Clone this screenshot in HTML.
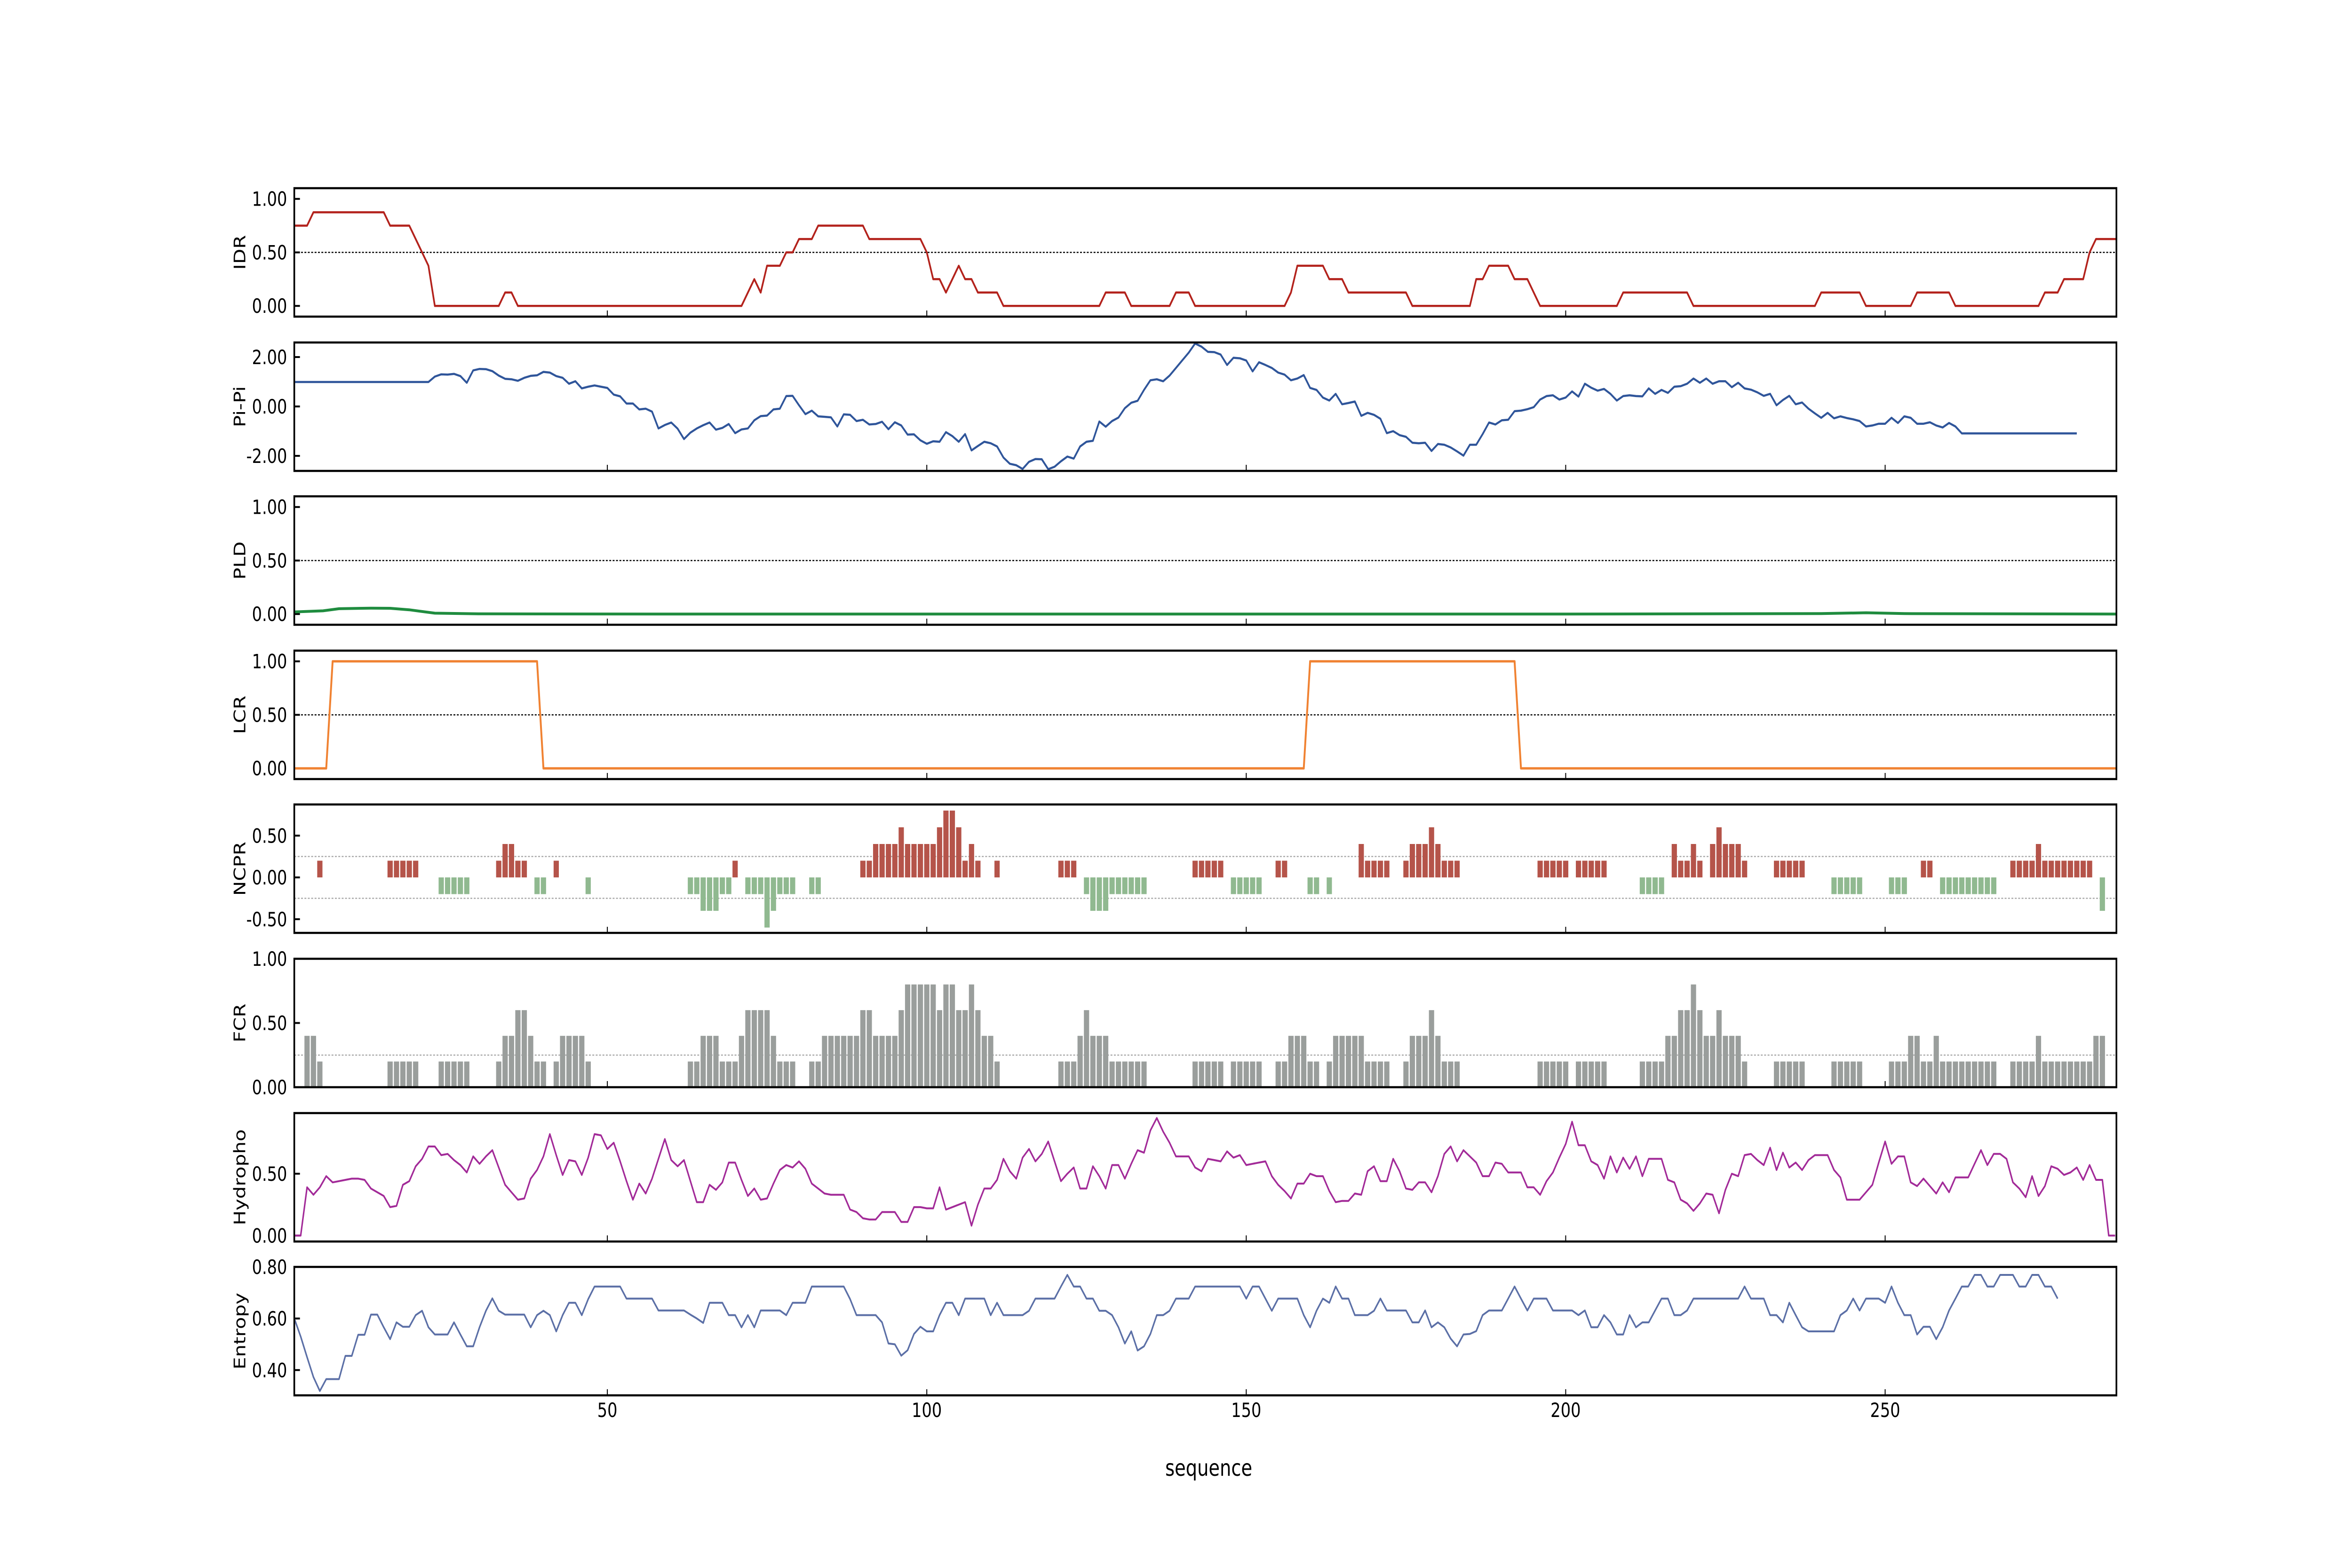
<!DOCTYPE html>
<html><head><meta charset="utf-8"><style>
html,body{margin:0;padding:0;background:#fff;overflow:hidden;width:100%;height:100%;}
svg{display:block;width:100vw;height:100vh;font-family:"DejaVu Sans","Liberation Sans",sans-serif;}
</style></head><body>
<svg id="fig" xmlns="http://www.w3.org/2000/svg" viewBox="0 0 6250 3333" preserveAspectRatio="none">
<rect x="0" y="0" width="6250" height="3333" fill="#fff"/>
</svg>
<script>
// ---- data ----
const xTicks = [50, 100, 150, 200, 250];
const idrX = [1,3,4,15,16,19,21,22,23,33,34,35,36,71,73,74,75,77,78,79,80,82,83,90,91,99,100,101,102,103,105,106,107,108,111,112,127,128,131,132,138,139,141,142,156,157,158,162,163,165,166,175,176,185,186,187,188,191,192,194,196,208,209,219,220,239,240,246,247,254,255,260,261,274,275,277,278,281,282,283,286.2];
const idrY = [0.75,0.75,0.875,0.875,0.75,0.75,0.5,0.375,0,0,0.125,0.125,0,0,0.25,0.125,0.375,0.375,0.5,0.5,0.625,0.625,0.75,0.75,0.625,0.625,0.5,0.25,0.25,0.125,0.375,0.25,0.25,0.125,0.125,0,0,0.125,0.125,0,0,0.125,0.125,0,0,0.125,0.375,0.375,0.25,0.25,0.125,0.125,0,0,0.25,0.25,0.375,0.375,0.25,0.25,0,0,0.125,0.125,0,0,0.125,0.125,0,0,0.125,0.125,0,0,0.125,0.125,0.25,0.25,0.5,0.625,0.625];
const piVals = [0.99,0.99,0.99,0.99,0.99,0.99,0.99,0.99,0.99,0.99,0.99,0.99,0.99,0.99,0.99,0.99,0.99,0.99,0.99,0.99,0.99,0.99,
1.21,1.30,1.29,1.32,1.23,0.96,1.46,1.52,1.51,1.43,1.25,1.12,1.10,1.04,1.16,1.24,1.26,1.40,1.37,1.23,1.16,0.92,1.02,0.73,0.80,0.85,0.80,0.75,0.48,0.41,0.12,0.12,-0.12,-0.09,-0.21,-0.89,-0.75,-0.65,-0.90,-1.32,-1.06,-0.89,-0.76,-0.65,-0.94,-0.87,-0.71,-1.08,-0.93,-0.89,-0.56,-0.39,-0.37,-0.12,-0.09,0.42,0.43,0.05,-0.31,-0.17,-0.40,-0.42,-0.44,-0.81,-0.32,-0.34,-0.59,-0.54,-0.73,-0.71,-0.62,-0.92,-0.64,-0.77,-1.14,-1.13,-1.37,-1.51,-1.41,-1.43,-1.04,-1.20,-1.43,-1.12,-1.78,-1.60,-1.43,-1.49,-1.62,-2.07,-2.32,-2.38,-2.53,-2.24,-2.13,-2.14,-2.54,-2.44,-2.22,-2.03,-2.11,-1.62,-1.43,-1.39,-0.61,-0.82,-0.59,-0.45,-0.07,0.15,0.23,0.67,1.06,1.10,1.02,1.25,1.56,1.87,2.18,2.55,2.42,2.21,
2.20,2.10,1.68,1.97,1.95,1.86,1.42,1.79,1.68,1.56,1.37,1.29,1.06,1.13,1.27,0.75,0.67,0.36,0.24,0.51,0.09,0.14,0.20,-0.38,-0.26,-0.34,-0.50,-1.08,-1.00,-1.16,-1.23,-1.47,-1.49,-1.47,-1.80,-1.52,-1.55,-1.66,-1.82,-1.99,-1.55,-1.55,-1.12,-0.65,-0.73,-0.56,-0.54,-0.19,-0.17,-0.11,-0.03,0.28,0.42,0.45,0.28,0.36,0.61,0.40,0.92,0.76,0.64,0.71,0.51,0.24,0.42,0.45,0.42,0.41,0.73,0.51,0.67,0.55,0.80,0.82,0.92,1.13,0.96,1.13,0.92,1.02,1.02,0.78,0.96,0.73,0.68,0.57,0.43,0.51,0.05,0.26,0.43,0.09,0.16,-0.09,-0.28,-0.46,-0.26,-0.48,-0.40,-0.47,-0.52,-0.59,-0.81,-0.77,-0.70,-0.70,-0.46,-0.67,-0.40,-0.46,-0.70,-0.70,-0.64,-0.77,-0.85,-0.67,-0.81,-1.09,
-1.09,-1.09,-1.09,-1.09,-1.09,-1.09,-1.09,-1.09,-1.09,-1.09,-1.09,-1.09,-1.09,-1.09,-1.09,-1.09,-1.09,-1.09];
const pldX = [1,5.5,8,13,16,19,23,30,60,200,240,247,253,286.2];
const pldY = [0.02,0.03,0.05,0.055,0.054,0.04,0.008,0.002,0,0,0.004,0.012,0.004,0];
const lcrX = [1,6,7,39,40,159,160,192,193,286.2];
const lcrY = [0,0,1,1,0,0,1,1,0,0];
const ncprVals = [0,0,0,0,.2,0,0,0,0,0, 0,0,0,0,0,.2,.2,.2,.2,.2, 0,0,0,-.2,-.2,-.2,-.2,-.2,0,0, 0,0,.2,.4,.4,.2,.2,0,-.2,-.2,
0,.2,0,0,0,0,-.2,0,0,0, 0,0,0,0,0,0,0,0,0,0, 0,0,-.2,-.2,-.4,-.4,-.4,-.2,-.2,.2, 0,-.2,-.2,-.2,-.6,-.4,-.2,-.2,-.2,0,
0,-.2,-.2,0,0,0,0,0,0,.2, .2,.4,.4,.4,.4,.6,.4,.4,.4,.4, .4,.6,.8,.8,.6,.2,.4,.2,0,0, .2,0,0,0,0,0,0,0,0,0,
.2,.2,.2,0,-.2,-.4,-.4,-.4,-.2,-.2, -.2,-.2,-.2,-.2,0,0,0,0,0,0, 0,.2,.2,.2,.2,.2,0,-.2,-.2,-.2, -.2,-.2,0,0,.2,.2,0,0,0,-.2,
-.2,0,-.2,0,0,0,0,.4,.2,.2, .2,.2,0,0,.2,.4,.4,.4,.6,.4, .2,.2,.2,0,0,0,0,0,0,0, 0,0,0,0,0,.2,.2,.2,.2,.2,
0,.2,.2,.2,.2,.2,0,0,0,0, 0,-.2,-.2,-.2,-.2,0,.4,.2,.2,.4, .2,0,.4,.6,.4,.4,.4,.2,0,0, 0,0,.2,.2,.2,.2,.2,0,0,0,
0,-.2,-.2,-.2,-.2,-.2,0,0,0,0, -.2,-.2,-.2,0,0,.2,.2,0,-.2,-.2, -.2,-.2,-.2,-.2,-.2,-.2,-.2,0,0,.2, .2,.2,.2,.4,.2,.2,.2,.2,.2,.2,
.2,.2,0,-.4,0,0];
const fcrVals = [0,0,.4,.4,.2,0,0,0,0,0, 0,0,0,0,0,.2,.2,.2,.2,.2, 0,0,0,.2,.2,.2,.2,.2,0,0, 0,0,.2,.4,.4,.6,.6,.4,.2,.2,
0,.2,.4,.4,.4,.4,.2,0,0,0, 0,0,0,0,0,0,0,0,0,0, 0,0,.2,.2,.4,.4,.4,.2,.2,.2, .4,.6,.6,.6,.6,.4,.2,.2,.2,0,
0,.2,.2,.4,.4,.4,.4,.4,.4,.6, .6,.4,.4,.4,.4,.6,.8,.8,.8,.8, .8,.6,.8,.8,.6,.6,.8,.6,.4,.4, .2,0,0,0,0,0,0,0,0,0,
.2,.2,.2,.4,.6,.4,.4,.4,.2,.2, .2,.2,.2,.2,0,0,0,0,0,0, 0,.2,.2,.2,.2,.2,0,.2,.2,.2, .2,.2,0,0,.2,.2,.4,.4,.4,.2,
.2,0,.2,.4,.4,.4,.4,.4,.2,.2, .2,.2,0,0,.2,.4,.4,.4,.6,.4, .2,.2,.2,0,0,0,0,0,0,0, 0,0,0,0,0,.2,.2,.2,.2,.2,
0,.2,.2,.2,.2,.2,0,0,0,0, 0,.2,.2,.2,.2,.4,.4,.6,.6,.8, .6,.4,.4,.6,.4,.4,.4,.2,0,0, 0,0,.2,.2,.2,.2,.2,0,0,0,
0,.2,.2,.2,.2,.2,0,0,0,0, .2,.2,.2,.4,.4,.2,.2,.4,.2,.2, .2,.2,.2,.2,.2,.2,.2,0,0,.2, .2,.2,.2,.4,.2,.2,.2,.2,.2,.2,
.2,.2,.4,.4,0,0];
const hydroVals = [0,0,.39,.33,.39,.48,.43,.44,.45,.46, .46,.45,.38,.35,.32,.23,.24,.41,.44,.56, .62,.72,.72,.65,.66,.61,.57,.51,.64,.58,
.64,.69,.55,.41,.35,.29,.30,.46,.53,.64, .82,.65,.49,.61,.60,.49,.63,.82,.81,.70, .75,.60,.44,.29,.42,.34,.46,.62,.78,.61,
.56,.61,.44,.27,.27,.41,.37,.43,.59,.59, .45,.32,.38,.29,.30,.42,.53,.57,.55,.60, .54,.42,.38,.34,.33,.33,.33,.21,.19,.14,
.13,.13,.19,.19,.19,.11,.11,.23,.23,.22, .22,.39,.21,.23,.25,.27,.08,.25,.38,.38, .45,.62,.52,.46,.63,.70,.60,.66,.76,.60,
.44,.50,.55,.38,.38,.56,.48,.38,.57,.57, .46,.58,.69,.67,.85,.95,.84,.75,.64,.64, .64,.55,.52,.62,.61,.60,.68,.63,.65,.57,
.58,.59,.60,.48,.41,.36,.30,.42,.42,.50, .48,.48,.36,.27,.28,.28,.34,.33,.52,.56, .44,.44,.62,.52,.38,.37,.43,.43,.35,.48,
.66,.72,.60,.69,.64,.59,.48,.48,.59,.58, .51,.51,.51,.39,.39,.33,.44,.51,.63,.74, .92,.73,.73,.60,.57,.46,.64,.51,.63,.54,
.64,.48,.62,.62,.62,.45,.43,.29,.26,.20, .26,.34,.33,.18,.37,.50,.48,.65,.66,.61, .57,.71,.53,.67,.55,.59,.53,.61,.65,.65,
.65,.53,.47,.29,.29,.29,.35,.41,.59,.76, .58,.64,.64,.43,.40,.46,.40,.34,.43,.35, .47,.47,.47,.58,.69,.57,.66,.66,.62,.43,
.38,.31,.48,.32,.40,.56,.54,.49,.51,.55, .45,.57,.45,.45,0,0];
const entVals = [.60,.53,.45,.373,.319,.365,.365,.365,.455,.455, .537,.537,.615,.615,.566,.52,.585,.568,.568,.613, .63,.566,.538,.538,.538,.585,.538,.492,.492,.566,
.63,.678,.63,.615,.615,.615,.615,.566,.613,.63, .613,.55,.613,.661,.661,.613,.675,.724,.724,.724, .724,.724,.677,.677,.677,.677,.677,.631,.631,.631,
.631,.631,.615,.60,.583,.661,.661,.661,.613,.613, .566,.613,.566,.631,.631,.631,.631,.613,.661,.661, .661,.724,.724,.724,.724,.724,.724,.675,.613,.613,
.613,.613,.585,.503,.50,.456,.477,.54,.568,.55, .55,.613,.661,.661,.613,.677,.677,.677,.677,.613, .661,.613,.613,.613,.613,.63,.677,.677,.677,.677,
.724,.769,.724,.724,.677,.677,.63,.63,.613,.566, .503,.55,.476,.492,.54,.613,.613,.63,.677,.677, .677,.724,.724,.724,.724,.724,.724,.724,.724,.677,
.724,.724,.677,.63,.677,.677,.677,.677,.613,.566, .63,.677,.661,.724,.677,.677,.613,.613,.613,.63, .677,.631,.631,.631,.631,.585,.585,.631,.566,.585,
.566,.522,.492,.538,.54,.551,.613,.631,.631,.631, .677,.724,.677,.631,.677,.677,.677,.631,.631,.631, .631,.613,.631,.566,.566,.613,.585,.538,.538,.613,
.566,.585,.585,.631,.677,.677,.613,.613,.631,.677, .677,.677,.677,.677,.677,.677,.677,.724,.677,.677, .677,.613,.613,.585,.661,.613,.566,.55,.55,.55,
.55,.55,.613,.631,.677,.631,.677,.677,.677,.661, .724,.661,.613,.613,.538,.568,.568,.52,.566,.631, .677,.724,.724,.769,.769,.724,.724,.769,.769,.769,
.724,.724,.769,.769,.724,.724,.677];

// ---- layout ----
const NS = 'http://www.w3.org/2000/svg';
const svg = document.getElementById('fig');
const X0 = 782, X1 = 5624, XMIN = 1, XMAX = 286.2;
const PH = 273;
function xs(v){ return X0 + (v - XMIN) / (XMAX - XMIN) * (X1 - X0); }
function mk(tag, attrs, parent){ const e = document.createElementNS(NS, tag); for (const k in attrs) e.setAttribute(k, attrs[k]); (parent||svg).appendChild(e); return e; }

function panel(key, label, top, ymin, ymax, ticks, tickLabels, refLines, refColor){
  const g = mk('g', {});
  
  
  const ys = v => top + PH - (v - ymin) / (ymax - ymin) * PH;
  refLines.forEach(r => {
    const l = mk('line', {x1:X0, x2:X1, y1:ys(r), y2:ys(r), stroke:refColor, 'stroke-width':2.5, 'stroke-dasharray':'5,4'}, g);
    
    
  });
  ticks.forEach((t, i) => {
    const tk = mk('line', {x1:X0, x2:X0+15, y1:ys(t), y2:ys(t), stroke:'#000', 'stroke-width':4}, g);
    
    
    const tx = mk('text', {x:763, y:ys(t)+15, 'text-anchor':'end', 'font-size':42, fill:'#000'}, g);
    tx.textContent = tickLabels[i];
    
    
  });
  xTicks.forEach(t => {
    const tk = mk('line', {x1:xs(t), x2:xs(t), y1:top+PH, y2:top+PH-13, stroke:'#000', 'stroke-width':2.5}, g);
    
    
  });
  const yl = mk('text', {x:0, y:0, 'text-anchor':'middle', 'font-size':42, fill:'#000', transform:'translate(652,'+(top+PH/2)+') rotate(-90)'}, g);
  yl.textContent = label;
  
  
  return {g, ys, top};
}
function frame(p, key){
  const r = mk('rect', {x:X0, y:p.top, width:X1-X0, height:PH, fill:'none', stroke:'#000', 'stroke-width':4.5}, p.g);
  
  
}
function line(p, xsArr, ysArr, color, w, key){
  const d = xsArr.map((x, i) => (i ? 'L' : 'M') + xs(x).toFixed(1) + ',' + p.ys(ysArr[i]).toFixed(1)).join('');
  const e = mk('path', {d, fill:'none', stroke:color, 'stroke-width':w, 'stroke-linejoin':'round'}, p.g);
  
  
}
function idx(arr){ return arr.map((v, i) => i + 1); }
function bars(p, vals, posColor, negColor, key){
  const bw = (xs(2) - xs(1)) * 0.82;
  vals.forEach((v, i) => {
    if (v === 0) return;
    const cx = xs(i + 1), y0 = p.ys(0), y1 = p.ys(v);
    const r = mk('rect', {x:cx - bw/2, y:Math.min(y0, y1), width:bw, height:Math.abs(y1 - y0), fill: v > 0 ? posColor : negColor}, p.g);
    
    
  });
}

const tops = [400, 728, 1055, 1383, 1710, 2038, 2366, 2693];

let p = panel('idr', 'IDR', tops[0], -0.1, 1.1, [1, 0.5, 0], ['1.00','0.50','0.00'], [0.5], '#000');
line(p, idrX, idrY, '#b3221c', 4.5, 'idr'); frame(p, 'idr');

p = panel('pipi', 'Pi-Pi', tops[1], -2.61, 2.59, [2, 0, -2], ['2.00','0.00','-2.00'], [], '#000');
line(p, idx(piVals), piVals, '#2f559a', 4.5, 'pipi'); frame(p, 'pipi');

p = panel('pld', 'PLD', tops[2], -0.1, 1.1, [1, 0.5, 0], ['1.00','0.50','0.00'], [0.5], '#000');
line(p, pldX, pldY, '#1f8c3f', 6, 'pld'); frame(p, 'pld');

p = panel('lcr', 'LCR', tops[3], -0.1, 1.1, [1, 0.5, 0], ['1.00','0.50','0.00'], [0.5], '#000');
line(p, lcrX, lcrY, '#f08232', 5, 'lcr'); frame(p, 'lcr');

p = panel('ncpr', 'NCPR', tops[4], -0.664, 0.873, [0.5, 0, -0.5], ['0.50','0.00','-0.50'], [0.25, -0.25], '#aaa');
bars(p, ncprVals, '#b5544a', '#90b990', 'ncpr'); frame(p, 'ncpr');

p = panel('fcr', 'FCR', tops[5], 0, 1, [1, 0.5, 0], ['1.00','0.50','0.00'], [0.25], '#aaa');
bars(p, fcrVals, '#9a9e9c', '#9a9e9c', 'fcr'); frame(p, 'fcr');

p = panel('hydropho', 'Hydropho', tops[6], -0.048, 0.99, [0.5, 0], ['0.50','0.00'], [], '#000');
line(p, idx(hydroVals), hydroVals, '#a22a98', 4, 'hydropho'); frame(p, 'hydropho');

p = panel('entropy', 'Entropy', tops[7], 0.302, 0.80, [0.8, 0.6, 0.4], ['0.80','0.60','0.40'], [], '#000');
line(p, idx(entVals), entVals, '#5b6fa6', 4, 'entropy'); frame(p, 'entropy');

xTicks.forEach(t => {
  const tx = mk('text', {x:xs(t), y:3012, 'text-anchor':'middle', 'font-size':42, fill:'#000'});
  tx.textContent = String(t);
  
  
});
const xt = mk('text', {x:3212, y:3137, 'text-anchor':'middle', 'font-size':48, fill:'#000'});
xt.textContent = 'sequence';


</script>
</body></html>
